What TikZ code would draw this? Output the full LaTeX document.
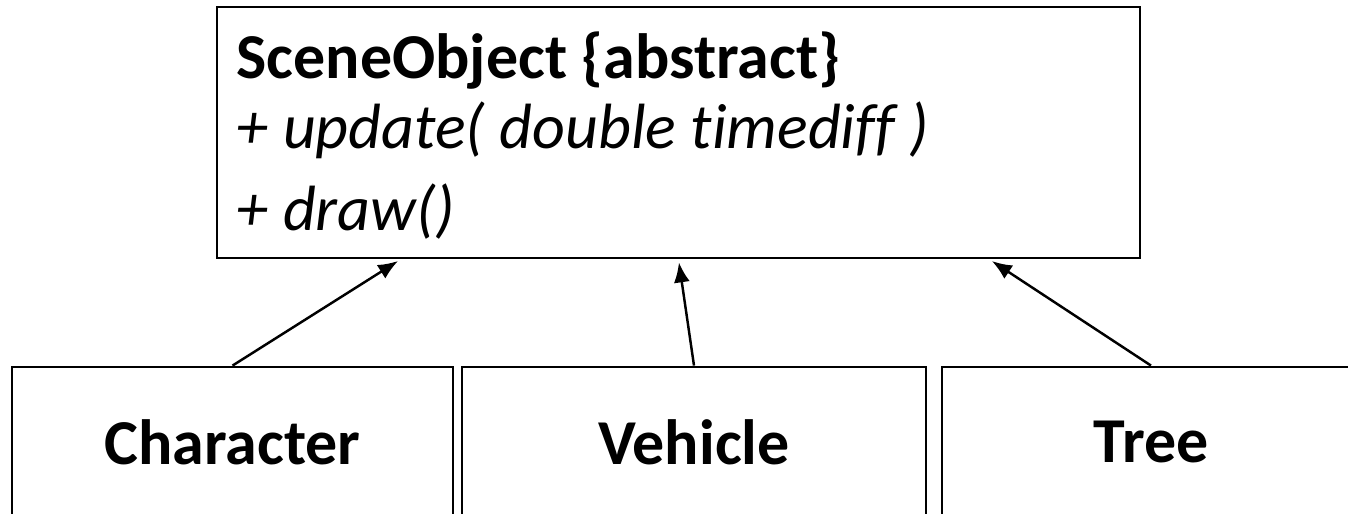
\documentclass[tikz,border=0pt]{standalone}
\usepackage{fontspec}
\setmainfont{Carlito}[Ligatures=NoCommon]
\usetikzlibrary{arrows.meta}

\begin{document}
\begin{tikzpicture}[
    cls/.style={draw, line width=0.8pt, inner sep=0pt},
    sub/.style={cls, minimum height=1.5cm, font=\fontsize{18.2}{22}\selectfont\bfseries},
    member/.style={anchor=base west, inner sep=0pt, font=\fontsize{18.2}{22}\selectfont},
    inherit/.style={line width=0.7pt, shorten >=0.3mm, -{Latex[length=2mm,width=1.6mm]}}]
        \useasboundingbox (0,0) rectangle (13.48,5.13);
        \clip (0,0) rectangle (13.48,5.13);
        \node[cls, minimum width=9.23cm, minimum height=2.51cm] (scene) at (6.785,3.805) {};
        \node[member] (title) at (2.36,4.35) {\bfseries SceneObject \{abstract\}};
        \node[member] (update) at (2.36,3.65) {\itshape + update( double timediff )};
        \node[member] (drawop) at (2.36,2.83) {\itshape + draw()};
        \node[sub, minimum width=4.41cm] (character) at (2.325,0.71) {Character};
        \node[sub, minimum width=4.64cm] (vehicle) at (6.94,0.71) {Vehicle};
        \node[sub, minimum width=4.18cm] (tree) at (11.51,0.71) {Tree};
        \draw[inherit] (character.north) -- ([xshift=1.85cm]scene.south west);
        \draw[inherit] (vehicle.north) -- (scene.south);
        \draw[inherit] (tree.north) -- ([xshift=-1.52cm]scene.south east);
\end{tikzpicture}
\end{document}
